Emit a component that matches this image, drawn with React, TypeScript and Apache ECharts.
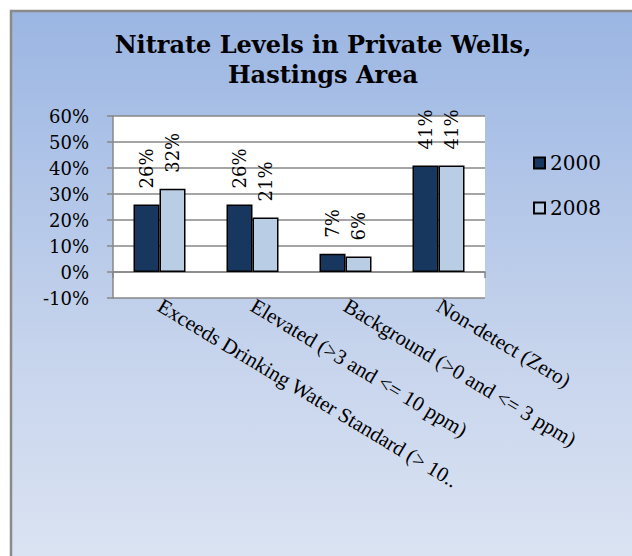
import React, { useEffect, useRef } from "react";
import * as echarts from "echarts";

// Nitrate level classes (x axis) and the labels printed under them
const categories = [
  "Exceeds Drinking Water Standard (> 10 ppm)",
  "Elevated (>3 and <= 10 ppm)",
  "Background (>0 and <= 3 ppm)",
  "Non-detect (Zero)",
];
const tickLabels = [
  "Exceeds Drinking Water Standard (> 10..",
  "Elevated (>3 and <= 10 ppm)",
  "Background (>0 and <= 3 ppm)",
  "Non-detect (Zero)",
];

// Share of sampled wells, percent
const wells2000 = [26, 26, 7, 41];
const wells2008 = [32, 21, 6, 41];

const yMin = -10;
const yMax = 60;
const yStep = 10;

const SERIF = "'DejaVu Serif', 'Liberation Serif', serif";
const TIMES = "'Liberation Serif', serif";
const GRAY = "#878787";

export default function App() {
  const ref = useRef<HTMLDivElement>(null);

  useEffect(() => {
    if (!ref.current) return;
    const chart = echarts.init(ref.current, null, { renderer: "svg" });

    const barLabel = {
      show: true,
      position: "top",
      rotate: 90,
      align: "left",
      verticalAlign: "middle",
      distance: 16,
      formatter: "{c}%",
      fontFamily: SERIF,
      fontSize: 18,
      color: "#000",
    };

    chart.setOption({
      animation: false,
      backgroundColor: "#fff",
      graphic: [
        {
          type: "rect",
          z: -100,
          silent: true,
          shape: { x: 11, y: 11, width: 700, height: 600 },
          style: {
            fill: new echarts.graphic.LinearGradient(0, 0, 0, 1, [
              { offset: 0, color: "#9bb6e3" },
              { offset: 0.55, color: "#c5d3ec" },
              { offset: 1, color: "#e0e7f4" },
            ]),
            stroke: "#8a8a8a",
            lineWidth: 2.5,
          },
        },
      ],
      title: {
        text: "Nitrate Levels in Private Wells,\nHastings Area",
        left: 323,
        top: 29,
        padding: 0,
        textAlign: "center",
        textStyle: {
          fontFamily: SERIF,
          fontWeight: "bold",
          fontSize: 24,
          lineHeight: 30,
          color: "#000",
        },
      },
      legend: {
        orient: "vertical",
        left: 533,
        top: 153,
        padding: 0,
        icon: "rect",
        itemWidth: 11,
        itemHeight: 11,
        itemGap: 25,
        textStyle: { fontFamily: SERIF, fontSize: 20, color: "#000" },
        data: ["2000", "2008"],
      },
      grid: {
        left: 113,
        right: 147,
        top: 116,
        bottom: 258,
        show: true,
        backgroundColor: "#fff",
        borderWidth: 0,
      },
      xAxis: [
        {
          type: "category",
          data: categories,
          position: "bottom",
          axisLine: { show: true, onZero: true, lineStyle: { color: GRAY, width: 1.5 } },
          axisTick: { show: true, length: 6, lineStyle: { color: GRAY, width: 1.5 } },
          axisLabel: { show: false },
          splitLine: { show: false },
        },
        {
          type: "category",
          data: categories,
          position: "bottom",
          axisLine: { show: false, onZero: false },
          axisTick: { show: false },
          splitLine: { show: false },
          axisLabel: {
            show: true,
            interval: 0,
            rotate: -31,
            margin: 6,
            fontFamily: TIMES,
            fontSize: 21,
            color: "#000",
            formatter: (_v: string, i: number) => tickLabels[i],
          },
        },
      ],
      yAxis: {
        type: "value",
        min: yMin,
        max: yMax,
        interval: yStep,
        axisLine: { show: true, lineStyle: { color: GRAY, width: 1.5 } },
        axisTick: { show: true, length: 6, lineStyle: { color: GRAY, width: 1.5 } },
        splitLine: { show: true, lineStyle: { color: GRAY, width: 1.5 } },
        axisLabel: {
          margin: 24,
          formatter: "{value}%",
          fontFamily: SERIF,
          fontSize: 18,
          color: "#000",
        },
      },
      series: [
        {
          name: "2000",
          type: "bar",
          xAxisIndex: 0,
          data: wells2000,
          barWidth: 26,
          barGap: "0%",
          itemStyle: { color: "#17375e", borderColor: "#000", borderWidth: 1.5 },
          label: barLabel,
        },
        {
          name: "2008",
          type: "bar",
          xAxisIndex: 0,
          data: wells2008,
          barWidth: 26,
          barGap: "0%",
          itemStyle: { color: "#b9cde5", borderColor: "#000", borderWidth: 1.5 },
          label: barLabel,
        },
      ],
    });

    return () => chart.dispose();
  }, []);

  return (
    <div
      ref={ref}
      style={{ position: "fixed", left: 0, top: 0, width: 632, height: 556 }}
    />
  );
}
